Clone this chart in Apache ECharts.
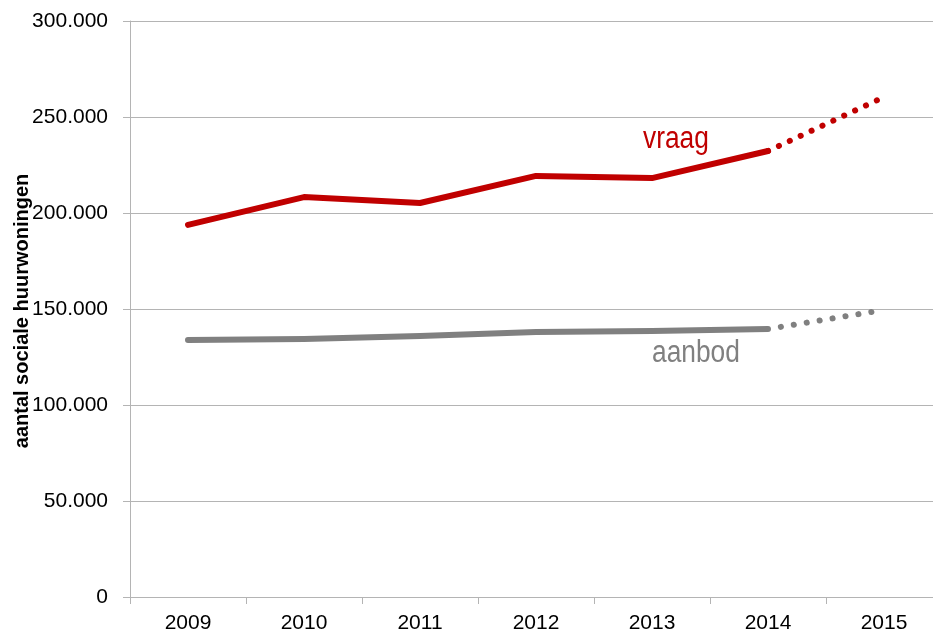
<!DOCTYPE html>
<html>
<head>
<meta charset="utf-8">
<script src="https://cdn.jsdelivr.net/npm/echarts@6/dist/echarts.min.js"></script>
<style>
  html, body { margin: 0; padding: 0; background: #fff; }
  #chart { width: 933px; height: 641px; }
</style>
</head>
<body>
<div id="chart"></div>
<script>
// jaren op de x-as
var years = ["2009", "2010", "2011", "2012", "2013", "2014", "2015"];
// vraag naar sociale huurwoningen (2015 = prognose, stippellijn)
var vraag = [193800, 208300, 205200, 219300, 218200, 232300, null];
var vraagPrognose = [null, null, null, null, null, 232300, 260400];
// aanbod
var aanbod = [133900, 134400, 135900, 138000, 138500, 139600, null];
var aanbodPrognose = [null, null, null, null, null, 139600, 149500];

var font = "'Liberation Sans', Arial, sans-serif";
var red = "#c00000";
var grey = "#808080";
var lineGrey = "#b4b4b4";

var myChart = echarts.init(document.getElementById("chart"));

function fmt(v) {
  // 300000 -> "300.000"
  if (v === 0) return "0";
  return String(v).replace(/\B(?=(\d{3})+(?!\d))/g, ".");
}

var option = {
  animation: false,
  backgroundColor: "#fff",
  grid: { left: 130, right: -9, top: 21, bottom: 44, containLabel: false, outerBoundsMode: "none" },
  xAxis: {
    type: "category",
    data: years,
    boundaryGap: true,
    axisLine: { lineStyle: { color: lineGrey, width: 1 } },
    axisTick: { show: true, length: 7, lineStyle: { color: lineGrey } },
    axisLabel: { color: "#000", fontFamily: font, fontSize: 21, margin: 16 }
  },
  yAxis: {
    type: "value",
    min: 0,
    max: 300000,
    interval: 50000,
    axisLine: { show: true, lineStyle: { color: lineGrey, width: 1 } },
    axisTick: { show: true, length: 7, lineStyle: { color: lineGrey } },
    splitLine: { show: true, lineStyle: { color: lineGrey, width: 1 } },
    axisLabel: { color: "#000", fontFamily: font, fontSize: 21, margin: 22, formatter: fmt }
  },
  series: [
    {
      name: "vraag",
      type: "line",
      data: vraag,
      showSymbol: false,
      symbol: "none",
      lineStyle: { color: red, width: 6, cap: "round", join: "round" }
    },
    {
      name: "vraag prognose",
      type: "line",
      data: vraagPrognose,
      showSymbol: false,
      symbol: "none",
      lineStyle: { color: red, width: 6, type: [0.1, 11.9], dashOffset: -12, cap: "round" }
    },
    {
      name: "aanbod",
      type: "line",
      data: aanbod,
      showSymbol: false,
      symbol: "none",
      lineStyle: { color: grey, width: 6, cap: "round", join: "round" }
    },
    {
      name: "aanbod prognose",
      type: "line",
      data: aanbodPrognose,
      showSymbol: false,
      symbol: "none",
      lineStyle: { color: grey, width: 6, type: [0.1, 13], dashOffset: -13, cap: "round" }
    }
  ],
  graphic: [
    {
      // as-titel
      type: "text",
      x: 22,
      y: 311,
      rotation: Math.PI / 2,
      style: {
        text: "aantal sociale huurwoningen",
        fill: "#000",
        font: "bold 20px " + font,
        align: "center",
        verticalAlign: "middle"
      }
    },
    {
      type: "text",
      x: 643,
      y: 124,
      scaleX: 0.85,
      style: { text: "vraag", fill: red, font: "31px " + font }
    },
    {
      type: "text",
      x: 652,
      y: 338,
      scaleX: 0.85,
      style: { text: "aanbod", fill: grey, font: "31px " + font }
    }
  ]
};

myChart.setOption(option);
</script>
</body>
</html>
